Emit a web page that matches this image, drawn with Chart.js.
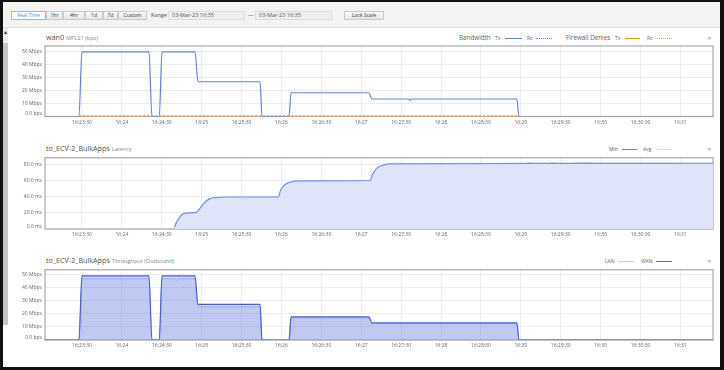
<!DOCTYPE html>
<html><head><meta charset="utf-8">
<script src="https://cdn.jsdelivr.net/npm/chart.js@4/dist/chart.umd.min.js"></script>
<style>
html,body{margin:0;padding:0;}
body{width:724px;height:370px;overflow:hidden;background:#111;position:relative;font-family:"Open Sans",sans-serif;}
.abs{position:absolute;white-space:nowrap;line-height:1;font-size:6px;}
#frame{position:absolute;left:3px;top:2px;width:717px;height:365px;background:#fff;}
#toolbar{position:absolute;left:3px;top:2px;width:717px;height:25px;background:#f3f3f3;border-bottom:1px solid #e0e0e0;}
.btn{position:absolute;top:11px;height:9px;box-sizing:border-box;border:1px solid #c9c9c9;background:linear-gradient(#fafafa,#e6e6e6);font-size:5px;line-height:7px;text-align:center;color:#333;}
.btn.on{border-color:#7cc3ee;background:#fff;color:#3b9bdc;}
.inp{position:absolute;top:11px;height:9px;box-sizing:border-box;border:1px solid #dcdcdc;background:#efefef;font-size:5.5px;line-height:7px;color:#555;padding-left:3px;}
.lbl{font-size:5.5px;color:#555;}
.ttl{font-size:7.2px;color:#555;}
.sub{font-size:5.6px;color:#888;margin-left:2px;}
.leg{font-size:6.3px;color:#666;}
.lsm{font-size:5px;color:#666;}
.ln{position:absolute;height:0;}
.x{font-size:8px;color:#999;}
canvas{position:absolute;left:8px;}
#sb{position:absolute;left:3px;top:28px;width:5px;height:297px;background:#ececec;}
#thumb{position:absolute;left:3px;top:43px;width:5px;height:282px;background:#c6c6c6;}
</style></head>
<body>
<div id="frame"></div>
<div id="toolbar"></div>
<div class="btn on" style="left:11px;width:35px;">Real Time</div>
<div class="btn" style="left:46px;width:17px;">1hr</div>
<div class="btn" style="left:63px;width:22px;">4hr</div>
<div class="btn" style="left:85px;width:18px;">1d</div>
<div class="btn" style="left:103px;width:15px;">7d</div>
<div class="btn" style="left:118px;width:29px;">Custom</div>
<div class="abs lbl" style="left:151px;top:12.5px;">Range</div>
<div class="inp" style="left:168px;width:77px;">03-Mar-23 16:35</div>
<div class="abs lbl" style="left:248px;top:12.5px;">—</div>
<div class="inp" style="left:255px;width:77px;">03-Mar-23 16:35</div>
<div class="btn" style="left:344px;width:40px;">Lock Scale</div>
<div id="sb"></div><div id="thumb"></div>
<div class="abs" style="left:3px;top:30px;font-size:5px;color:#333;">▲</div>

<!-- chart 1 header -->
<div class="abs" style="left:46px;top:34px;"><span class="ttl">wan0</span><span class="sub">MPLS1 (bps)</span></div>
<div class="abs leg" style="left:459px;top:34.5px;">Bandwidth</div>
<div class="abs lsm" style="left:495px;top:35.5px;">Tx</div>
<div class="ln" style="left:505px;top:38px;width:17px;border-top:1px solid #6b80e6;"></div>
<div class="abs lsm" style="left:527px;top:35.5px;">Rx</div>
<div class="ln" style="left:536px;top:38px;width:16px;border-top:1px dotted #6b80e6;"></div>
<div class="abs leg" style="left:566px;top:34.5px;">Firewall Denies</div>
<div class="abs lsm" style="left:615px;top:35.5px;">Tx</div>
<div class="ln" style="left:625px;top:38px;width:15px;border-top:1px solid #f5a300;"></div>
<div class="abs lsm" style="left:647px;top:35.5px;">Rx</div>
<div class="ln" style="left:657px;top:38px;width:15px;border-top:1px dotted #f5a300;"></div>
<div class="abs x" style="left:707px;top:33.5px;">×</div>

<!-- chart 2 header -->
<div class="abs" style="left:46px;top:145px;"><span class="ttl">to_ECV-2_BulkApps</span><span class="sub">Latency</span></div>
<div class="abs lsm" style="left:609px;top:146.5px;">Min</div>
<div class="ln" style="left:622px;top:149px;width:15px;border-top:1px solid #6a7fe0;"></div>
<div class="abs lsm" style="left:643px;top:146.5px;">Avg</div>
<div class="ln" style="left:657px;top:149px;width:15px;border-top:1px solid #d5dcf7;"></div>
<div class="abs x" style="left:707px;top:144.5px;">×</div>

<!-- chart 3 header -->
<div class="abs" style="left:46px;top:257px;"><span class="ttl">to_ECV-2_BulkApps</span><span class="sub">Throughput (Outbound)</span></div>
<div class="abs lsm" style="left:605px;top:258.5px;">LAN</div>
<div class="ln" style="left:618px;top:261px;width:16px;border-top:1px solid #b5d3f7;"></div>
<div class="abs lsm" style="left:641px;top:258.5px;">WAN</div>
<div class="ln" style="left:656px;top:261px;width:16px;border-top:1px solid #5a6ad8;"></div>
<div class="abs x" style="left:707px;top:256.5px;">×</div>

<canvas id="c1" width="712" height="92" style="top:40px;"></canvas>
<canvas id="c2" width="712" height="92" style="top:152px;"></canvas>
<canvas id="c3" width="712" height="92" style="top:264px;"></canvas>

<script>
// ---- time axis (seconds after 16:23:00) ----
const xMin = 2.2;
const xMax = 504.5;
const xTickSeconds = [30, 60, 90, 120, 150, 180, 210, 240, 270, 300, 330, 360, 390, 420, 450, 480];
const xTickLabels = ["16:23:30","16:24","16:24:30","16:25","16:25:30","16:26","16:26:30","16:27","16:27:30","16:28","16:28:30","16:29","16:29:30","16:30","16:30:30","16:31"];

// ---- chart 1: wan0 MPLS1 bandwidth (Mbps) ----
const bwTicks = [0, 10, 20, 30, 40, 50];
const bwTxTimes = [2.2, 27.7, 30, 80.4, 82.6, 88.1, 90.2, 115, 117.2, 163.9, 165.4, 185.7, 187.2, 245.8, 248, 275.8, 276.7, 277.6, 357, 358.6, 504.5];
const bwTxMbps  = [0, 0, 49.5, 49.5, 0, 0, 49.5, 49.5, 26.6, 26.6, 0, 0, 18.2, 18.2, 13.4, 13.4, 12.6, 13.4, 13.4, 0, 0];
const bwRxTimes = [28, 358.6];
const bwRxMbps  = [0.5, 0.5];
const fwTxTimes = [2.2, 504.5];
const fwTxMbps  = [0, 0];
const fwRxTimes = [2.2, 504.5];
const fwRxMbps  = [0, 0];

// ---- chart 2: latency (ms) ----
const latTicks = [0, 20, 40, 60, 80];
const latMinTimes = [99.4, 101.2, 105, 108.7, 115.7, 117.5, 122.5, 126.3, 130, 138.8, 177.6, 179.4, 182.7, 186.4, 195.2, 246.6, 248.6, 251.6, 256.6, 261.6, 400, 504.5];
const latMinMs    = [2, 8.5, 17.6, 19.6, 20.5, 23, 33.3, 37.5, 38.7, 39.5, 39.5, 47.8, 54.9, 57.8, 59.4, 59.9, 67.7, 74.8, 78.9, 80.5, 81, 81.2];
const latAvgTimes = [99.4, 101.2, 105, 108.7, 115.7, 117.5, 122.5, 126.3, 130, 138.8, 177.6, 179.4, 182.7, 186.4, 195.2, 246.6, 248.6, 251.6, 256.6, 261.6, 364, 367, 370, 381, 384, 387, 399, 402, 412, 415, 504.5];
const latAvgMs    = [2, 8.5, 17.6, 19.6, 20.5, 23, 33.3, 37.5, 38.7, 39.5, 39.5, 47.8, 54.9, 57.8, 59.4, 59.9, 67.7, 74.8, 78.9, 80.5, 80.8, 82.3, 80.8, 80.9, 82.3, 80.9, 81, 82.4, 82.4, 81.1, 81.2];

// ---- chart 3: throughput outbound (Mbps) ----
const tpTicks = [0, 10, 20, 30, 40, 50];
const wanTimes = [2.2, 27.7, 30, 80.4, 82.6, 88.1, 90.2, 115, 117.2, 163.9, 165.4, 185.7, 187.2, 245.8, 248, 357, 358.6, 504.5];
const wanMbps  = [0, 0, 48.8, 48.8, 0, 0, 48.8, 48.8, 27.2, 27.2, 0, 0, 17.6, 17.6, 13.1, 13.1, 0, 0];
const lanTimes = [2.2, 27.7, 30, 80.4, 82.6, 88.1, 90.2, 100, 101, 102, 115, 117.2, 163.9, 165.4, 185.7, 187.2, 245.8, 248, 357, 358.6, 504.5];
const lanMbps  = [0, 0, 46.6, 46.6, 0, 0, 46.6, 46.6, 45.2, 46.6, 46.6, 25.3, 25.3, 0, 0, 16.8, 16.8, 12.4, 12.4, 0, 0];

function pts(t, v) { return t.map((x, i) => ({ x: x, y: v[i] })); }

Chart.defaults.font.family = '"Open Sans", sans-serif';

const plotFrame = {
  id: 'plotFrame',
  beforeDatasetsDraw(c) {
    const a = c.chartArea, ctx = c.ctx;
    ctx.save();
    ctx.strokeStyle = '#a9a9a9';
    ctx.lineWidth = 1.2;
    ctx.strokeRect(a.left, a.top, a.right - a.left, a.bottom - a.top);
    ctx.restore();
  }
};

function makeChart(id, datasets, yMax, yTicks, yFmt, padTop, xH) {
  return new Chart(document.getElementById(id), {
    type: 'line',
    data: { datasets: datasets },
    plugins: [plotFrame],
    options: {
      responsive: false, animation: false, devicePixelRatio: 1,
      layout: { padding: { top: padTop, right: 7, left: 0, bottom: 0 } },
      plugins: { legend: { display: false }, tooltip: { enabled: false } },
      elements: { point: { radius: 0 }, line: { cubicInterpolationMode: 'monotone' } },
      scales: {
        x: {
          type: 'linear', min: xMin, max: xMax,
          afterBuildTicks: s => { s.ticks = xTickSeconds.map(v => ({ value: v })); },
          afterFit: s => { s.height = xH; },
          grid: { color: '#ececec', drawTicks: false },
          border: { display: false },
          ticks: { autoSkip: false, maxRotation: 0, padding: 3, color: '#666', font: { size: 5 },
            callback: (v) => xTickLabels[xTickSeconds.indexOf(v)] }
        },
        y: {
          min: 0, max: yMax,
          afterBuildTicks: s => { s.ticks = yTicks.map(v => ({ value: v })); },
          afterFit: s => { s.width = 37; },
          grid: { color: '#ececec', drawTicks: false },
          border: { display: false },
          ticks: { padding: 3, color: '#666', font: { size: 5, lineHeight: 1.1 }, callback: yFmt }
        }
      }
    }
  });
}

// the zero label sits a little above its gridline, as in the reference
const fmtBps = v => v === 0 ? ['0.0 bps', ''] : v + ' Mbps';
const fmtMs = v => v === 0 ? ['0.0 ms', ''] : v.toFixed(1) + ' ms';

makeChart('c1', [
  { data: pts(bwTxTimes, bwTxMbps), borderColor: '#6b80e6', borderWidth: 1.2, order: 0 },
  { data: pts(bwRxTimes, bwRxMbps), borderColor: '#7d8fe6', borderWidth: 1, borderDash: [2, 2], order: 1 },
  { data: pts(fwRxTimes, fwRxMbps), borderColor: '#f7c070', borderWidth: 1, borderDash: [1, 1], order: 2 },
  { data: pts(fwTxTimes, fwTxMbps), borderColor: '#f5b44a', borderWidth: 1, order: 3 }
], 54, bwTicks, fmtBps, 6, 15.5);

makeChart('c2', [
  { data: pts(latMinTimes, latMinMs), borderColor: '#7a8ef0', borderWidth: 1.2, fill: 'origin', backgroundColor: '#dfe4fb', order: 0 },
  { data: pts(latAvgTimes, latAvgMs), borderColor: '#ccd5f8', borderWidth: 1, order: 1 }
], 88, latTicks, fmtMs, 5.5, 15);

makeChart('c3', [
  { data: pts(wanTimes, wanMbps), borderColor: '#4d5dd0', borderWidth: 1.2, fill: 'origin', backgroundColor: 'rgba(110,128,222,0.33)', order: 0 },
  { data: pts(lanTimes, lanMbps), borderColor: '#aac6f4', borderWidth: 1, fill: 'origin', backgroundColor: 'rgba(140,165,235,0.2)', order: 1 }
], 53.5, tpTicks, fmtBps, 5, 16);
</script>
</body></html>
